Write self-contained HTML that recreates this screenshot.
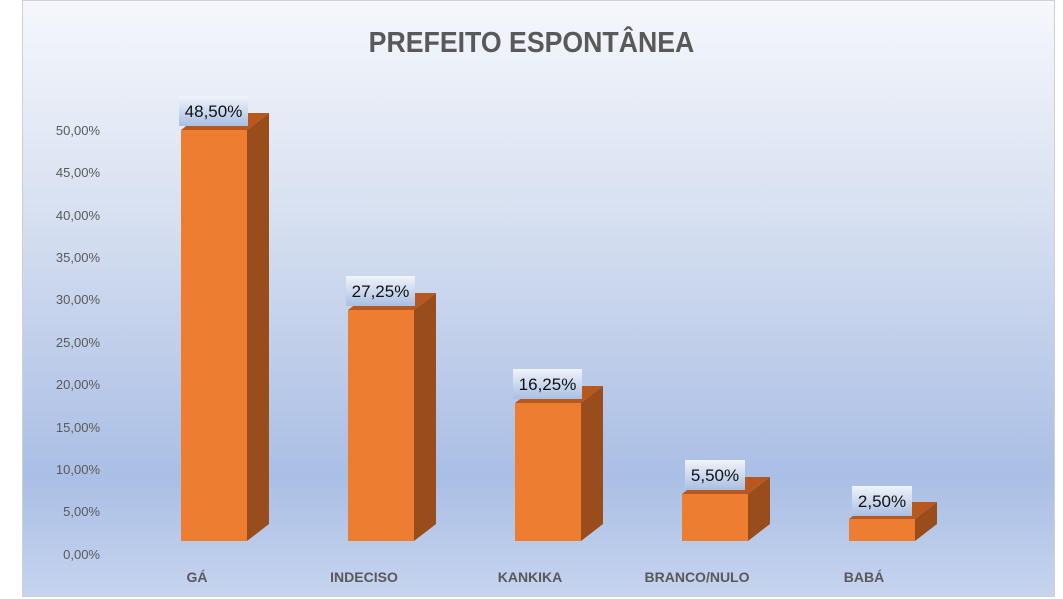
<!DOCTYPE html>
<html><head><meta charset="utf-8"><style>
body{margin:0;width:1063px;height:599px;background:#fff;overflow:hidden;font-family:"Liberation Sans",sans-serif}
#c{position:absolute;left:22px;top:0;width:1033px;height:597px;border:1px solid #d0d0d0;box-sizing:border-box;
background:linear-gradient(to bottom,#f5f7fc 0%,#d8e1f1 35%,#b9c9e8 65%,#aabfe5 80%,#c6d4ee 100%)}
.t{position:absolute;left:0;width:1063px;top:27px;text-align:center;font-size:29px;font-weight:bold;color:#595959;transform:scaleX(0.92)}
.y{position:absolute;width:80px;left:20px;text-align:right;font-size:13px;color:#595959}
.x{position:absolute;width:140px;text-align:center;font-size:14px;font-weight:bold;color:#595959;top:569px}
.lb{position:absolute;height:30px;font-size:17px;line-height:32px;text-align:center;color:#111;
background:linear-gradient(to bottom,#f0f4fb,#a9bfe3)}
</style></head><body>
<div id="c"></div>
<div class="t">PREFEITO ESPONTÂNEA</div>
<div class="y" style="top:123px">50,00%</div>
<div class="y" style="top:165px">45,00%</div>
<div class="y" style="top:208px">40,00%</div>
<div class="y" style="top:250px">35,00%</div>
<div class="y" style="top:292px">30,00%</div>
<div class="y" style="top:335px">25,00%</div>
<div class="y" style="top:377px">20,00%</div>
<div class="y" style="top:420px">15,00%</div>
<div class="y" style="top:462px">10,00%</div>
<div class="y" style="top:504px">5,00%</div>
<div class="y" style="top:547px">0,00%</div>
<svg width="1063" height="599" style="position:absolute;left:0;top:0">
<g>
<polygon points="181,130 203,113 269,113 247,130" fill="#b8581e"/><polygon points="247,130 269,113 269,524 247,541" fill="#9a4d1c"/><rect x="181" y="130" width="66" height="411" fill="#ed7d31"/>
<polygon points="348,310 370,293 436,293 414,310" fill="#b8581e"/><polygon points="414,310 436,293 436,524 414,541" fill="#9a4d1c"/><rect x="348" y="310" width="66" height="231" fill="#ed7d31"/>
<polygon points="515,403 537,386 603,386 581,403" fill="#b8581e"/><polygon points="581,403 603,386 603,524 581,541" fill="#9a4d1c"/><rect x="515" y="403" width="66" height="138" fill="#ed7d31"/>
<polygon points="682,494 704,477 770,477 748,494" fill="#b8581e"/><polygon points="748,494 770,477 770,524 748,541" fill="#9a4d1c"/><rect x="682" y="494" width="66" height="47" fill="#ed7d31"/>
<polygon points="849,519 871,502 937,502 915,519" fill="#b8581e"/><polygon points="915,519 937,502 937,524 915,541" fill="#9a4d1c"/><rect x="849" y="519" width="66" height="22" fill="#ed7d31"/>
</g></svg>
<div class="lb" style="left:179px;top:96px;width:69px">48,50%</div>
<div class="lb" style="left:346px;top:276px;width:69px">27,25%</div>
<div class="lb" style="left:513px;top:369px;width:69px">16,25%</div>
<div class="lb" style="left:685px;top:460px;width:60px">5,50%</div>
<div class="lb" style="left:852px;top:486px;width:60px">2,50%</div>
<div class="x" style="left:127px">GÁ</div>
<div class="x" style="left:294px">INDECISO</div>
<div class="x" style="left:460px">KANKIKA</div>
<div class="x" style="left:627px">BRANCO/NULO</div>
<div class="x" style="left:794px">BABÁ</div>
</body></html>
